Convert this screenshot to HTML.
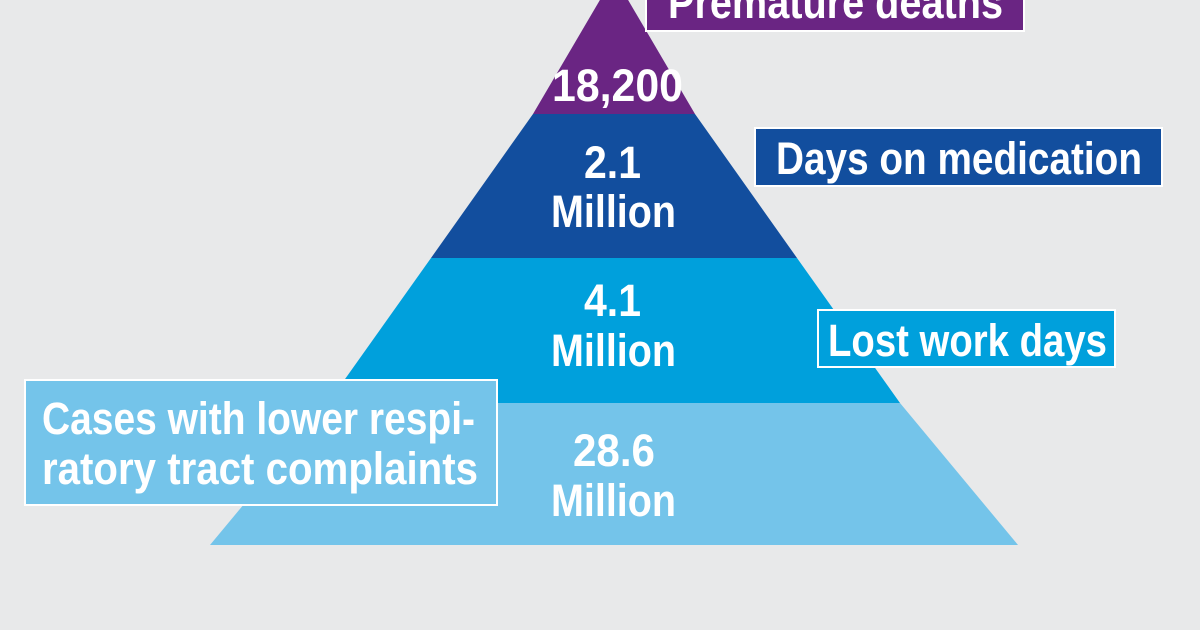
<!DOCTYPE html>
<html><head><meta charset="utf-8"><style>
html,body{margin:0;padding:0;background:#e8e9ea;}
svg{display:block}
text{font-family:"Liberation Sans Narrow","Liberation Sans",sans-serif;font-weight:bold;fill:#fff;font-size:45px}
</style></head><body>
<svg width="1200" height="630" viewBox="0 0 1200 630" xmlns="http://www.w3.org/2000/svg">
<rect width="1200" height="630" fill="#e8e9ea"/>
<polygon points="614,-24 695,114 533,114" fill="#6a2583"/>
<polygon points="533,114 695,114 797,258 431,258" fill="#124e9e"/>
<polygon points="431,258 797,258 900,403 328,403" fill="#00a0dc"/>
<polygon points="328,403 900,403 1018,545 210,545" fill="#74c4ea"/>

<rect x="646" y="-10" width="378" height="41" fill="#6a2583" stroke="#fff" stroke-width="2"/>
<text x="668" y="18" textLength="335" lengthAdjust="spacingAndGlyphs">Premature deaths</text>

<rect x="755" y="128" width="407" height="58" fill="#124e9e" stroke="#fff" stroke-width="2"/>
<text x="776" y="174" textLength="366" lengthAdjust="spacingAndGlyphs">Days on medication</text>

<rect x="818" y="310" width="297" height="57" fill="#00a0dc" stroke="#fff" stroke-width="2"/>
<text x="828" y="356" textLength="279" lengthAdjust="spacingAndGlyphs">Lost work days</text>

<rect x="25" y="380" width="472" height="125" fill="#74c4ea" stroke="#fff" stroke-width="2"/>
<text x="42" y="434" textLength="433" lengthAdjust="spacingAndGlyphs">Cases with lower respi-</text>
<text x="42" y="484" textLength="436" lengthAdjust="spacingAndGlyphs">ratory tract complaints</text>

<text x="552" y="101" textLength="131" lengthAdjust="spacingAndGlyphs">18,200</text>
<text x="584" y="178" textLength="57" lengthAdjust="spacingAndGlyphs">2.1</text>
<text x="551" y="227" textLength="125" lengthAdjust="spacingAndGlyphs">Million</text>
<text x="584" y="316" textLength="57" lengthAdjust="spacingAndGlyphs">4.1</text>
<text x="551" y="366" textLength="125" lengthAdjust="spacingAndGlyphs">Million</text>
<text x="573" y="466" textLength="82" lengthAdjust="spacingAndGlyphs">28.6</text>
<text x="551" y="516" textLength="125" lengthAdjust="spacingAndGlyphs">Million</text>
</svg>
</body></html>
